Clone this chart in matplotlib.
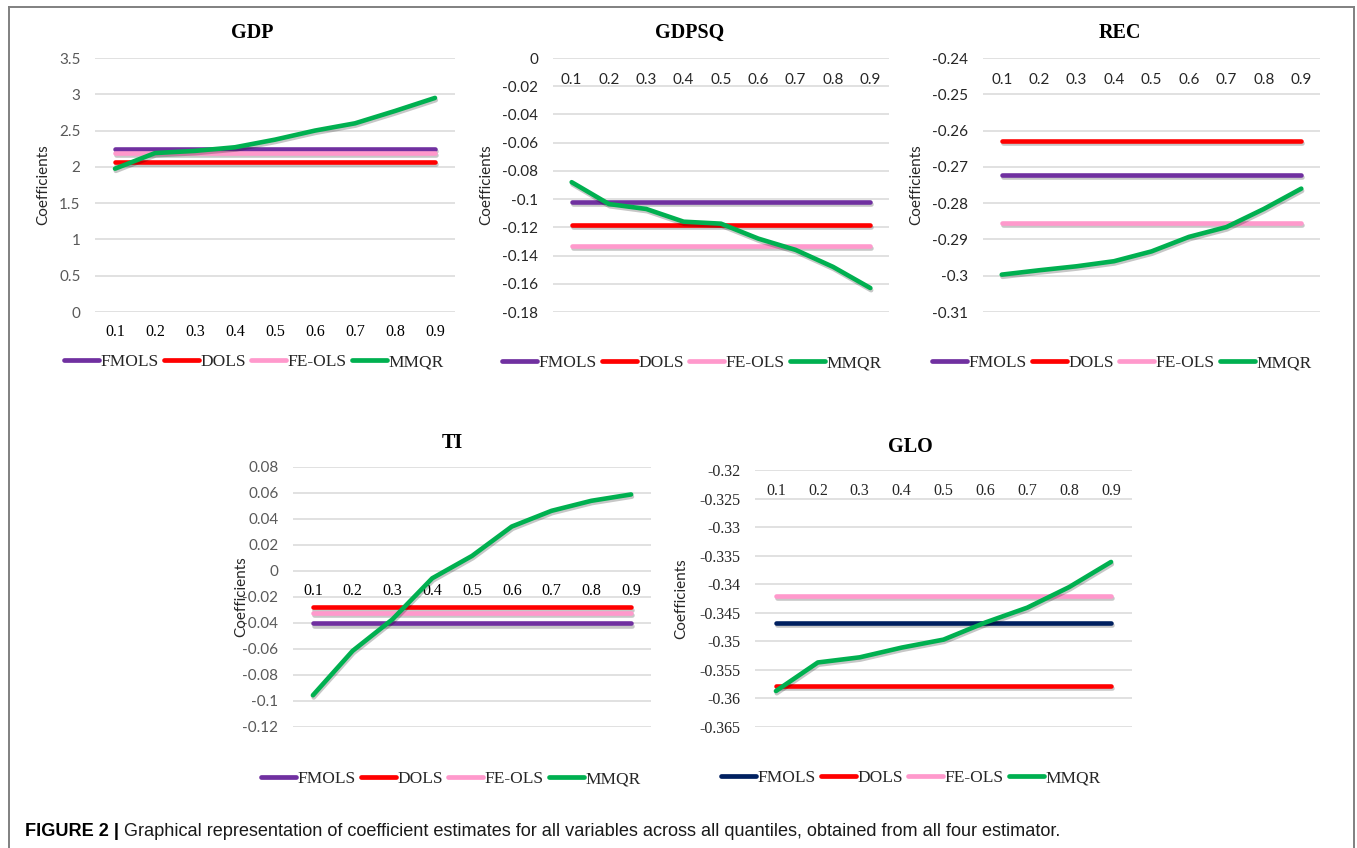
import matplotlib
matplotlib.use("Agg")
import matplotlib.pyplot as plt
import matplotlib.patheffects as pe
from matplotlib.lines import Line2D
import numpy as np

# ---------------- data ----------------
quantiles = ['0.1', '0.2', '0.3', '0.4', '0.5', '0.6', '0.7', '0.8', '0.9']
estimators = ['FMOLS', 'DOLS', 'FE-OLS', 'MMQR']

gdp_fmols = 2.245
gdp_dols = 2.067
gdp_feols = 2.19
gdp_mmqr = [1.975, 2.19, 2.22, 2.27, 2.375, 2.50, 2.60, 2.77, 2.95]

gdpsq_fmols = -0.102
gdpsq_dols = -0.118
gdpsq_feols = -0.133
gdpsq_mmqr = [-0.088, -0.1035, -0.107, -0.116, -0.1174, -0.128, -0.136, -0.148, -0.163]

rec_fmols = -0.2722
rec_dols = -0.2628
rec_feols = -0.2855
rec_mmqr = [-0.2997, -0.2985, -0.2974, -0.2960, -0.2933, -0.2893, -0.2866, -0.2816, -0.2760]

ti_fmols = -0.0403
ti_dols = -0.028
ti_feols = -0.0323
ti_mmqr = [-0.0956, -0.0614, -0.0372, -0.0056, 0.0116, 0.0342, 0.0463, 0.054, 0.0589]

glo_fmols = -0.3468
glo_dols = -0.3578
glo_feols = -0.3421
glo_mmqr = [-0.3587, -0.3537, -0.3528, -0.3511, -0.3497, -0.3467, -0.3441, -0.3405, -0.3361]

caption_bold = "FIGURE 2 |"
caption_text = ("Graphical representation of coefficient estimates for all variables across all "
                "quantiles, obtained from all four estimator.")

# ---------------- style ----------------
W, H = 1357, 848
SANS = ['Lato', 'DejaVu Sans']
SERIF = ['Liberation Serif', 'DejaVu Serif']
C_PURPLE = '#7030A0'
C_NAVY = '#002060'
C_RED = '#FF0000'
C_PINK = '#FF99CC'
C_GREEN = '#00B050'
LW = 3.3

fig = plt.figure(figsize=(W / 100, H / 100), dpi=100)


def rect(l, t, r, b):
    return [l / W, 1 - b / H, (r - l) / W, (b - t) / H]


def fmt(v):
    v = round(v, 5)
    if abs(v) < 1e-12:
        return '0'
    return f"{v:g}"


def panel(box, title, title_xy, ylim, step, ycross, fmols, dols, feols, mmqr,
          fm_color, xfont, xcolor, yfont, ycolor, xpad, ylab_dx, leg_xy):
    ax = fig.add_axes(rect(*box))
    for s in ax.spines.values():
        s.set_color('none')
    ax.spines['bottom'].set_position(('data', ycross))
    n = len(quantiles)
    x = np.arange(n)
    shadow = [pe.SimpleLineShadow(offset=(0.6, -1.6), shadow_color='black', alpha=0.22),
              pe.Normal()]
    series = [(np.full(n, fmols), fm_color), (np.full(n, dols), C_RED),
              (np.full(n, feols), C_PINK), (np.array(mmqr), C_GREEN)]
    for (vals, col), lab in zip(series, estimators):
        ax.plot(x, vals, color=col, lw=LW, solid_capstyle='round',
                solid_joinstyle='round', path_effects=shadow, label=lab, zorder=3)
    ax.set_xlim(-0.5, n - 0.5)
    ax.set_ylim(*ylim)
    ticks = np.arange(ylim[0], ylim[1] + step / 2, step)
    ax.set_yticks(ticks)
    ax.set_yticklabels([fmt(t) for t in ticks])
    ax.yaxis.grid(True, color='#D9D9D9', lw=1.1, zorder=0)
    ax.set_axisbelow(True)
    ax.set_xticks(x)
    ax.set_xticklabels(quantiles)
    ax.tick_params(axis='x', length=0, pad=xpad)
    ax.tick_params(axis='y', length=0, pad=10.5)
    for lbl in ax.get_xticklabels():
        lbl.set_fontfamily(xfont)
        lbl.set_fontsize(11 if xfont == SANS else 11.5)
        lbl.set_color(xcolor)
    for lbl in ax.get_yticklabels():
        lbl.set_fontfamily(yfont)
        lbl.set_fontsize(11 if yfont == SANS else 11.5)
        lbl.set_color(ycolor)
    ax.set_facecolor('none')
    ax.set_ylabel('Coefficients', fontfamily=SANS, fontsize=11, color='#262626')
    ax.yaxis.set_label_coords(-ylab_dx / (box[2] - box[0]), 0.5)
    fig.text(title_xy[0] / W, 1 - title_xy[1] / H, title, ha='center', va='center',
             fontfamily=SERIF, fontweight='bold', fontsize=14.5, color='black')
    handles = [Line2D([0], [0], color=c, lw=3.4, solid_capstyle='round') for _, c in series]
    ax.legend(handles, estimators, loc='center', ncol=4, frameon=False,
              bbox_to_anchor=(leg_xy[0] / W, 1 - leg_xy[1] / H), bbox_transform=fig.transFigure,
              prop={'family': SERIF, 'size': 12.5}, handlelength=2.0, handletextpad=0.1,
              columnspacing=0.3, borderpad=0, labelcolor='#262626')
    return ax


panel((95, 58, 455, 312), 'GDP', (252, 33), (0, 3.5), 0.5, 0.0,
      gdp_fmols, gdp_dols, gdp_feols, gdp_mmqr, C_PURPLE,
      SERIF, 'black', SANS, '#595959', 9, 45, (254, 362))

panel((553, 58, 889, 312), 'GDPSQ', (690, 33), (-0.18, 0.0), 0.02, 0.0,
      gdpsq_fmols, gdpsq_dols, gdpsq_feols, gdpsq_mmqr, C_PURPLE,
      SANS, '#262626', SANS, '#262626', 11, 60, (692, 363))

panel((983, 58, 1320, 312), 'REC', (1120, 33), (-0.31, -0.24), 0.01, -0.24,
      rec_fmols, rec_dols, rec_feols, rec_mmqr, C_PURPLE,
      SANS, '#262626', SANS, '#262626', 11, 60, (1122, 363))

panel((293, 467, 651, 727), 'TI', (452, 443), (-0.12, 0.08), 0.02, 0.0,
      ti_fmols, ti_dols, ti_feols, ti_mmqr, C_PURPLE,
      SERIF, 'black', SANS, '#595959', 8.5, 45, (451, 779))

panel((755, 470, 1132, 727), 'GLO', (910, 447), (-0.365, -0.32), 0.005, -0.32,
      glo_fmols, glo_dols, glo_feols, glo_mmqr, C_NAVY,
      SERIF, '#262626', SERIF, '#262626', 9, 67, (911, 778))

# frame around the figure (open at the bottom)
frame_col = '#808080'
fig.add_artist(Line2D([9 / W, 9 / W], [0, 1 - 7 / H], color=frame_col, lw=1.4, transform=fig.transFigure))
fig.add_artist(Line2D([1354 / W, 1354 / W], [0, 1 - 7 / H], color=frame_col, lw=1.4, transform=fig.transFigure))
fig.add_artist(Line2D([9 / W, 1354 / W], [1 - 7 / H, 1 - 7 / H], color=frame_col, lw=1.4, transform=fig.transFigure))

# caption
CAP = ['Liberation Sans', 'DejaVu Sans']
t1 = fig.text(25 / W, 1 - 832 / H, caption_bold, ha='left', va='center', fontfamily=CAP,
              fontweight='bold', fontsize=13.1, color='black')
fig.canvas.draw()
bb = t1.get_window_extent()
t2 = fig.text(bb.x1 / W + 5 / W, 1 - 832 / H, caption_text, ha='left', va='center',
              fontfamily=CAP, fontsize=13.1, color='#1a1a1a')

fig.savefig('out.png', dpi=100, facecolor='white')
